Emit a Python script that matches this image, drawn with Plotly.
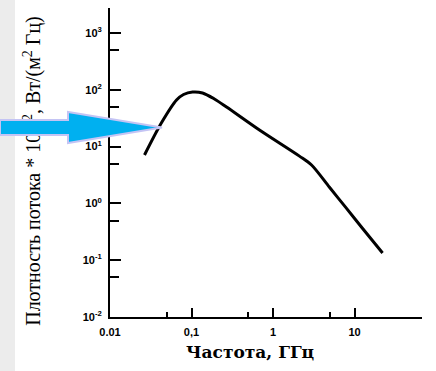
import plotly.graph_objects as go

# ---- data ----
freq_ghz = [0.0265, 0.0428, 0.0655, 0.0798, 0.103, 0.1365, 0.191, 0.269, 0.682,
            2.11, 2.97, 4.93, 7.98, 12.5, 22.1]
flux = [7.1, 26.2, 66, 82.6, 91.4, 88, 69, 49.8, 19.6,
        6.8, 4.74, 1.92, 0.816, 0.366, 0.134]

x_tickvals = [0.01, 0.1, 1, 10]
x_ticktext = ["0.01", "0,1", "1", "10"]
x_minorvals = [0.05, 0.5, 5]

y_tickvals = [0.01, 0.1, 1, 10, 100, 1000]
y_ticktext = ["10<sup>-2</sup>", "10<sup>-1</sup>", "10<sup>0</sup>",
              "10<sup>1</sup>", "10<sup>2</sup>", "10<sup>3</sup>"]
y_minorvals = [0.05, 0.5, 5, 50, 500]

x_title = "Частота, ГГц"
y_title = "Плотность потока * 10<sup>-22</sup>, Вт/(м<sup>2</sup> Гц)"

# ---- layout geometry ----
W, H = 436, 371
L, R, T, B = 110, 14, 8, 54
PW, PH = W - L - R, H - T - B


def px(x):
    return (x - L) / PW


def py(y):
    return (H - B - y) / PH


fig = go.Figure()
fig.add_trace(go.Scatter(
    x=freq_ghz, y=flux, mode="lines",
    line=dict(color="black", width=3, shape="spline", smoothing=0.85),
    showlegend=False, hoverinfo="skip",
))

tickfont = dict(family="Liberation Sans", size=11, color="black", weight="bold")

fig.update_xaxes(
    type="log", range=[-2, 1.828],
    showgrid=False, zeroline=False,
    showline=True, linecolor="black", linewidth=2,
    ticks="inside", ticklen=9, tickwidth=2, tickcolor="black",
    tickvals=x_tickvals, ticktext=x_ticktext, tickfont=tickfont,
    ticklabelstandoff=4,
    minor=dict(tickvals=x_minorvals, ticks="inside", ticklen=5, tickwidth=2, tickcolor="black"),
)
fig.update_yaxes(
    type="log", range=[-2, 3.44],
    showgrid=False, zeroline=False,
    showline=True, linecolor="black", linewidth=2,
    ticks="inside", ticklen=11, tickwidth=2, tickcolor="black",
    tickvals=y_tickvals, ticktext=y_ticktext, tickfont=tickfont,
    ticklabelstandoff=4,
    minor=dict(tickvals=y_minorvals, ticks="inside", ticklen=9, tickwidth=2, tickcolor="black"),
)

shapes = [
    # light grey strip on the left edge
    dict(type="rect", xref="paper", yref="paper", layer="below",
         x0=px(0), x1=px(15), y0=py(H), y1=py(0),
         fillcolor="#ececec", line=dict(width=0)),
    # vertical y title as shape label (so the arrow can cover it)
    dict(type="rect", xref="paper", yref="paper", layer="above",
         x0=px(22), x1=px(44), y0=py(322), y1=py(20),
         fillcolor="rgba(0,0,0,0)", line=dict(width=0),
         label=dict(text=y_title, textangle=-90, textposition="middle center",
                    font=dict(family="Liberation Serif", size=20, color="black"))),
]

arrow_pts = [(0, 120), (68, 120), (68, 112), (162, 127.5), (68, 143), (68, 135), (0, 135)]
path = "M " + " L ".join(f"{px(a):.4f},{py(b):.4f}" for a, b in arrow_pts) + " Z"
shapes.append(dict(type="path", xref="paper", yref="paper", layer="above", path=path,
                   fillcolor="#00b0f0", line=dict(color="#c4c4f4", width=2)))

fig.update_layout(
    width=W, height=H, autosize=False,
    margin=dict(l=L, r=R, t=T, b=B),
    paper_bgcolor="white", plot_bgcolor="white",
    font=dict(family="Liberation Serif", color="black"),
    shapes=shapes,
    annotations=[dict(text=x_title, xref="paper", yref="paper",
                      x=px(250), y=py(352), xanchor="center", yanchor="middle",
                      showarrow=False,
                      font=dict(family="DejaVu Serif", size=17, color="black", weight="bold"))],
)

fig.write_html("out.html", config={"displayModeBar": False},
               post_script="document.body.style.margin='0px';")
